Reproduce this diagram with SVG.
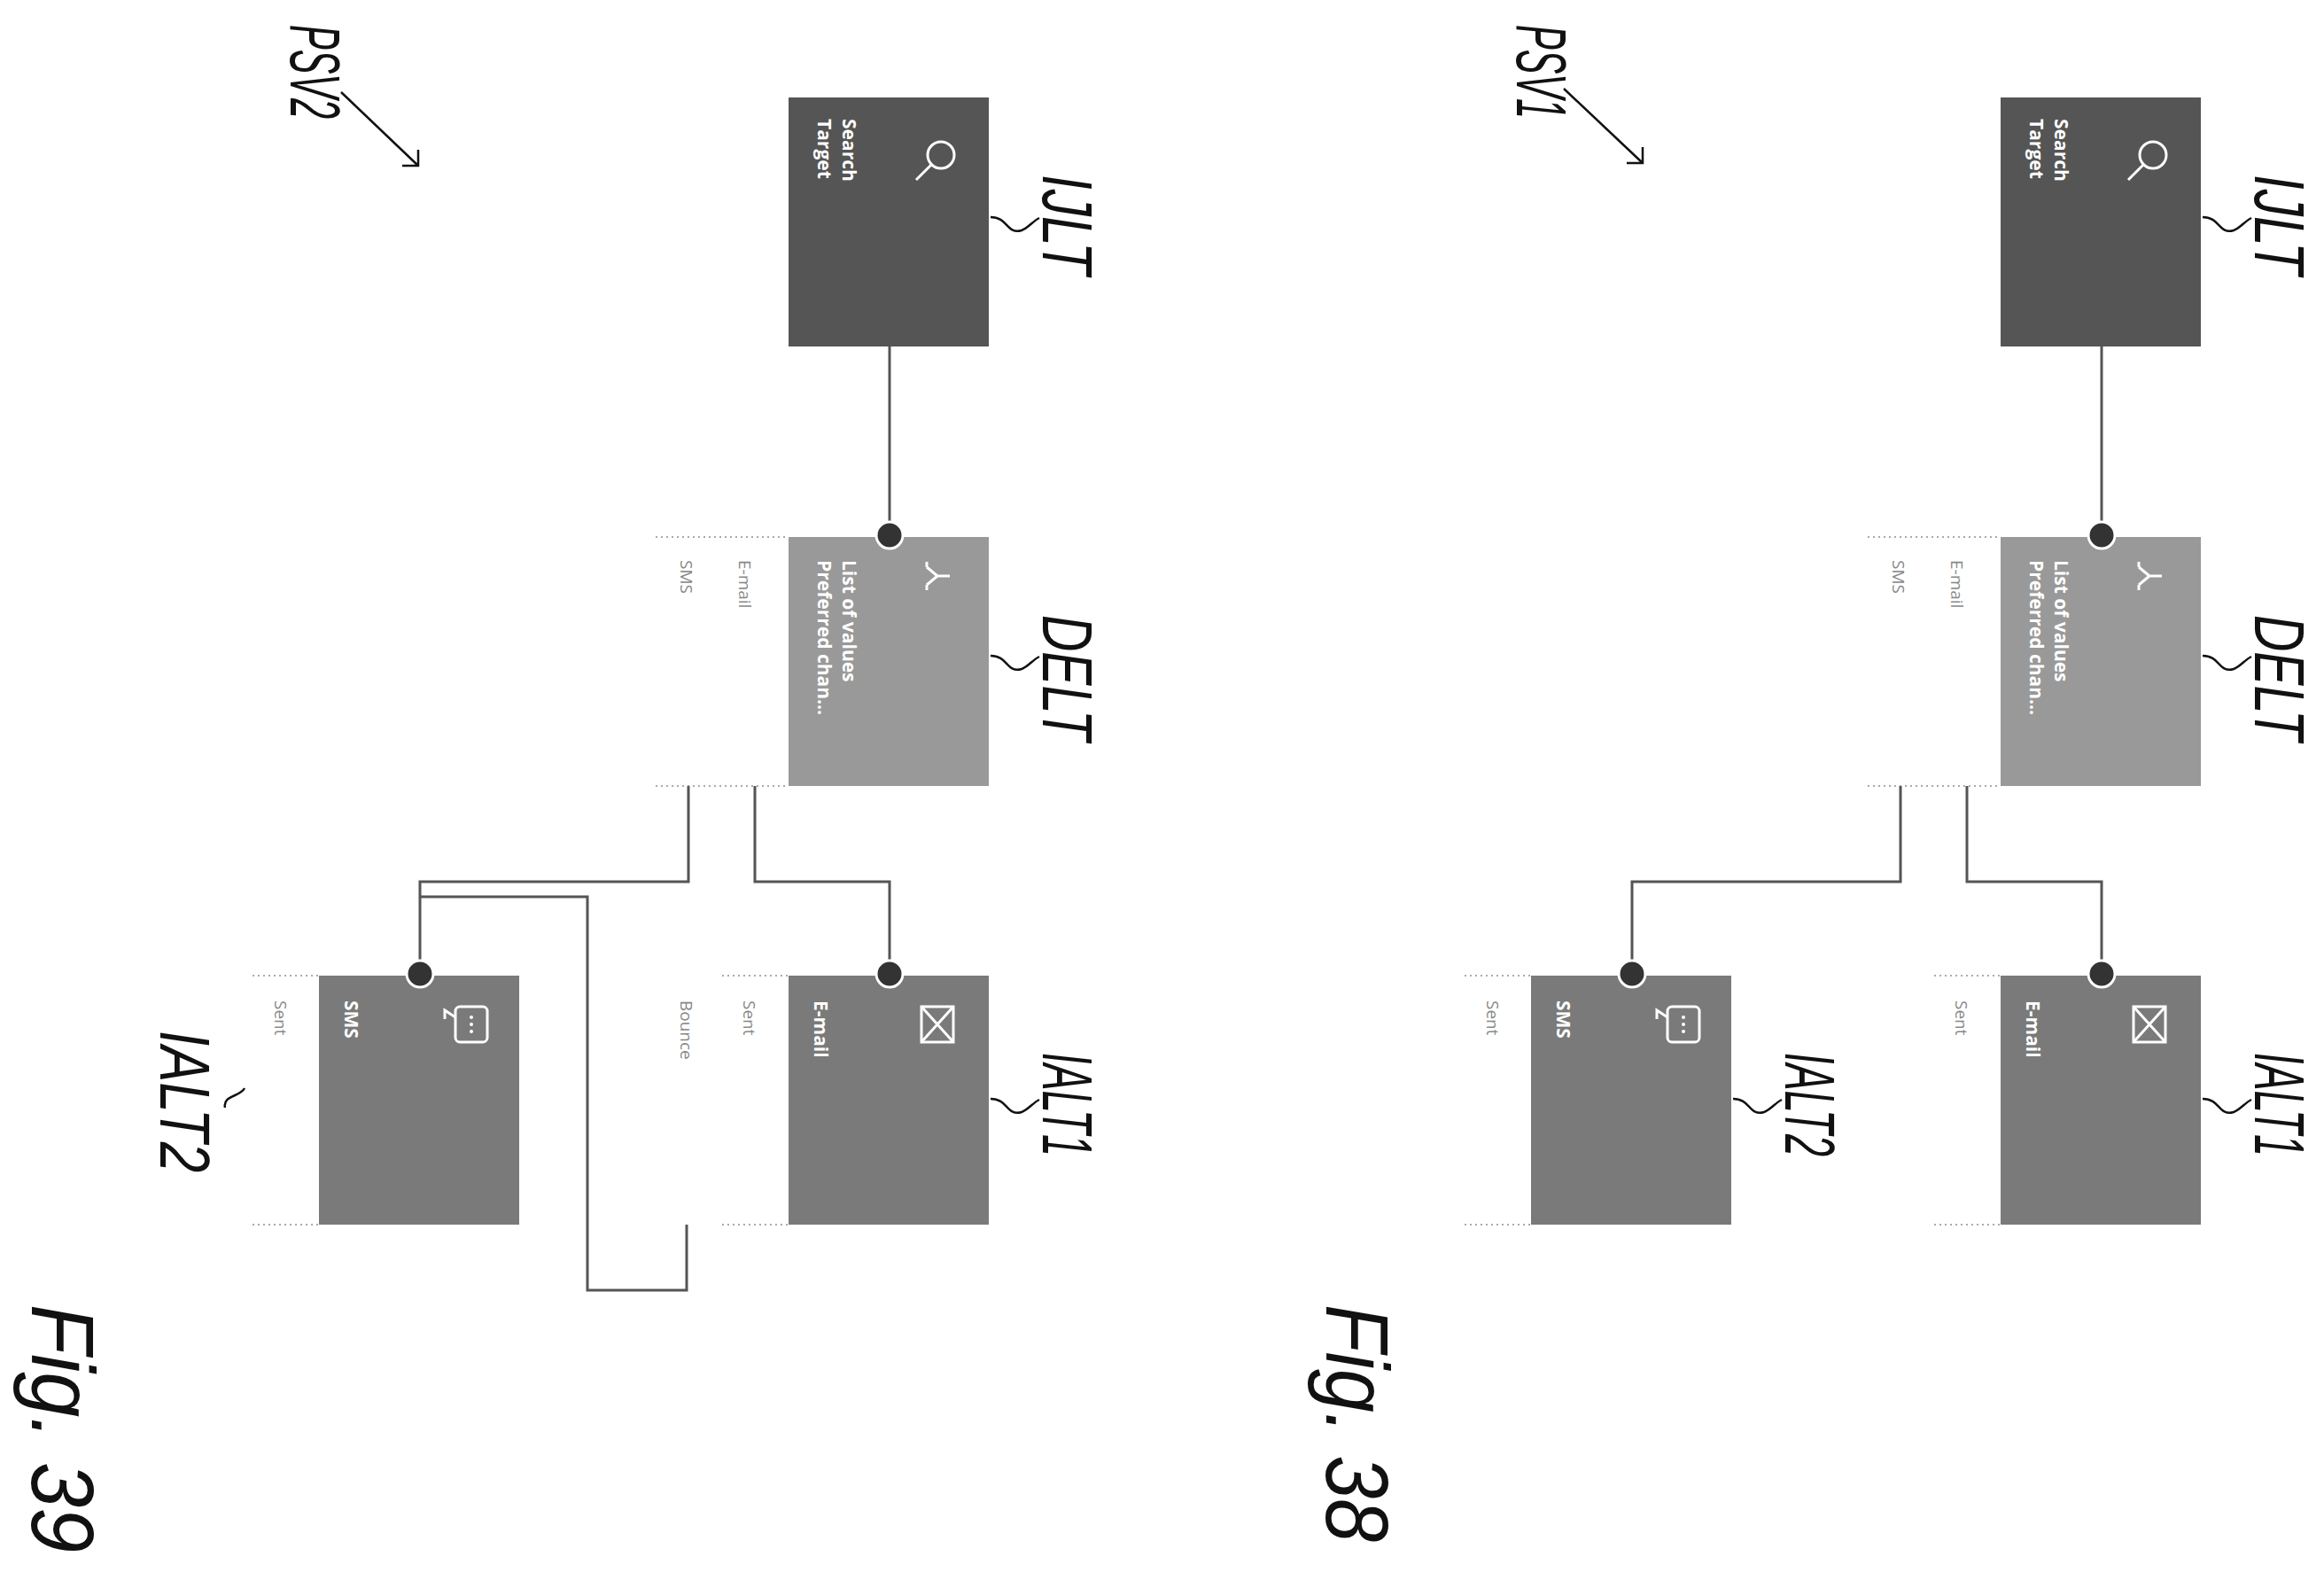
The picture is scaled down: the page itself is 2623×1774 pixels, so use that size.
<svg xmlns="http://www.w3.org/2000/svg" width="2623" height="1774" viewBox="0 0 2623 1774">
<style>
.lbl{font-family:"Liberation Sans",Arial,sans-serif;font-style:italic;font-size:80px;fill:#111}
.fig{font-family:"Liberation Sans",Arial,sans-serif;font-style:italic;font-size:100px;fill:#111}
.nt{font-family:"Open Sans","Liberation Sans",sans-serif;font-weight:bold;font-size:21px;fill:#fff}
.st{font-family:"Open Sans","Liberation Sans",sans-serif;font-size:19px;fill:#888}
.con{fill:none;stroke:#555;stroke-width:3}
.dot{fill:#333;stroke:#fff;stroke-width:3}
.dots{stroke:#aaa;stroke-width:2;stroke-dasharray:2 4}
.sq{fill:none;stroke:#111;stroke-width:2.5}
.ic{fill:none;stroke:#fff;stroke-width:3}
</style>
<defs>
<g id="fig">
  <g id="ijlt"><rect x="2258" y="110" width="226" height="281" fill="#555"/>
    <circle cx="2430" cy="175" r="15" class="ic"/><line x1="2419" y1="186" x2="2402" y2="203" class="ic"/>
    <text class="nt" transform="translate(2319,134) rotate(90)">Search</text>
    <text class="nt" transform="translate(2291,134) rotate(90)">Target</text></g>
  <g id="delt"><rect x="2258" y="606" width="226" height="281" fill="#999"/>
    <path d="M2440,650 h-14 M2426,650 l-12,-10 M2426,650 l-12,10 M2414,640 v-6 M2414,660 v6" class="ic"/>
    <text class="nt" transform="translate(2319,632) rotate(90)">List of values</text>
    <text class="nt" transform="translate(2291,632) rotate(90)">Preferred chan...</text>
    <line x1="2108" y1="606" x2="2258" y2="606" class="dots"/><line x1="2108" y1="887" x2="2258" y2="887" class="dots"/>
    <text class="st" transform="translate(2202,632) rotate(90)">E-mail</text>
    <text class="st" transform="translate(2136,632) rotate(90)">SMS</text></g>
  <g id="ialt1"><rect x="2258" y="1101" width="226" height="281" fill="#7a7a7a"/>
    <rect x="2408" y="1136" width="36" height="40" class="ic"/><path d="M2444,1136 l-18,20 18,20 M2408,1136 l18,20 -18,20" class="ic"/>
    <text class="nt" transform="translate(2287,1129) rotate(90)">E-mail</text>
    <line x1="2183" y1="1101" x2="2258" y2="1101" class="dots"/><line x1="2183" y1="1382" x2="2258" y2="1382" class="dots"/>
    <text class="st" transform="translate(2207,1129) rotate(90)">Sent</text></g>
  <g id="ialt2"><rect x="1728" y="1101" width="226" height="281" fill="#7a7a7a"/>
    <rect x="1882" y="1136" width="36" height="40" rx="5" class="ic"/><path d="M1882,1148 l-12,-8 v10" class="ic"/>
    <circle cx="1900" cy="1148" r="2" fill="#fff"/><circle cx="1900" cy="1156" r="2" fill="#fff"/><circle cx="1900" cy="1164" r="2" fill="#fff"/>
    <text class="nt" transform="translate(1757,1129) rotate(90)">SMS</text>
    <line x1="1653" y1="1101" x2="1728" y2="1101" class="dots"/><line x1="1653" y1="1382" x2="1728" y2="1382" class="dots"/>
    <text class="st" transform="translate(1678,1129) rotate(90)">Sent</text></g>
  <g id="conns">
    <line x1="2372" y1="391" x2="2372" y2="604" class="con"/>
    <path d="M2220,887 V995 H2372 V1099" class="con"/>
    <path d="M2145,887 V995 H1842 V1099" class="con"/>
    <circle cx="2372" cy="604" r="15" class="dot"/>
    <circle cx="2372" cy="1099" r="15" class="dot"/>
    <circle cx="1842" cy="1099" r="15" class="dot"/>
  </g>
  <g id="labels">
    <path d="M2486,245 c20,0 18,20 35,15 c8,-3 12,-10 20,-14" class="sq"/>
    <text class="lbl" transform="translate(2545,197) rotate(90)" textLength="113" lengthAdjust="spacingAndGlyphs">IJLT</text>
    <path d="M2486,740 c20,0 18,20 35,15 c8,-3 12,-10 20,-14" class="sq"/>
    <text class="lbl" transform="translate(2545,694) rotate(90)" textLength="142" lengthAdjust="spacingAndGlyphs">DELT</text>
    <path d="M2486,1240 c20,0 18,20 35,15 c8,-3 12,-10 20,-14" class="sq"/>
    <text class="lbl" transform="translate(2545,1188) rotate(90)" textLength="117" lengthAdjust="spacingAndGlyphs">IALT1</text>
  </g>
</g>
</defs>
<g id="fig38">
  <use href="#fig"/>
  <path d="M1956,1240 c20,0 18,20 35,15 c8,-3 12,-10 20,-14" class="sq"/>
  <text class="lbl" transform="translate(2015,1188) rotate(90)" textLength="117" lengthAdjust="spacingAndGlyphs">IALT2</text>
  <text class="lbl" transform="translate(1712,28) rotate(90)" textLength="106" lengthAdjust="spacingAndGlyphs">PSV1</text>
  <path d="M1765,100 L1854,184 M1836,184 H1854 V166" class="sq"/>
  <text class="fig" transform="translate(1497,1472) rotate(90)" textLength="268" lengthAdjust="spacingAndGlyphs">Fig. 38</text>
</g>
<g id="fig39">
  <use href="#fig" transform="translate(-1368,0)"/>
  <text class="st" transform="translate(768,1129) rotate(90)">Bounce</text>
  <path d="M775,1382 V1456 H663 V1012 H474" class="con"/>
  <path d="M276,1228 c-5,10 -25,8 -22,22" class="sq"/>
  <text class="lbl" transform="translate(181,1163) rotate(90)" textLength="160" lengthAdjust="spacingAndGlyphs">IALT2</text>
  <text class="lbl" transform="translate(328,28) rotate(90)" textLength="106" lengthAdjust="spacingAndGlyphs">PSV2</text>
  <path d="M385,104 L472,187 M454,187 H472 V169" class="sq"/>
  <text class="fig" transform="translate(36,1472) rotate(90)" textLength="280" lengthAdjust="spacingAndGlyphs">Fig. 39</text>
</g>
</svg>
